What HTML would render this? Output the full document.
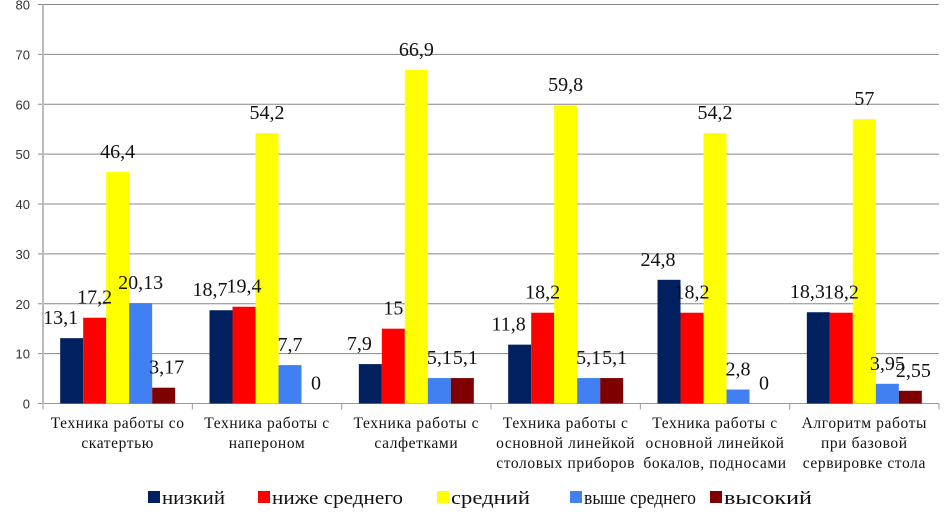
<!DOCTYPE html>
<html><head><meta charset="utf-8"><style>
body{margin:0;background:#fff;}
svg{display:block;}
.t{font-family:"Liberation Serif",serif;}
.s{font-family:"Liberation Sans",sans-serif;}
</style></head><body>
<svg id="c" width="945" height="519" xmlns="http://www.w3.org/2000/svg"></svg>
<script>
const categories=[["Техника работы со","скатертью"],["Техника работы с","напероном"],["Техника работы с","салфетками"],["Техника работы с","основной линейкой","столовых приборов"],["Техника работы с","основной линейкой","бокалов, подносами"],["Алгоритм работы","при базовой","сервировке стола"]];
const seriesNames=["низкий","ниже среднего","средний","выше среднего","высокий"];
const sLow=[13.1,18.7,7.9,11.8,24.8,18.3];
const sBelow=[17.2,19.4,15,18.2,18.2,18.2];
const sMid=[46.4,54.2,66.9,59.8,54.2,57];
const sAbove=[20.13,7.7,5.1,5.1,2.8,3.95];
const sHigh=[3.17,0,5.1,5.1,0,2.55];
const yTicks=[0,10,20,30,40,50,60,70,80];
const series=[sLow,sBelow,sMid,sAbove,sHigh];
const colors=["#002060","#ff0000","#ffff00","#4080f0","#7f0000"];
const labelShift=[-11,0,0,0,3];
const NS="http://www.w3.org/2000/svg";
const svg=document.getElementById('c');
const L=43,R=939,T=4.5,B=403.5,ymax=80;
const y=v=>B-(B-T)*v/ymax;
const cw=(R-L)/categories.length,bw=23;
const x=(ci,si)=>L+ci*cw+(cw-5*bw)/2+si*bw;
function mk(tag,attrs,txt){const e=document.createElementNS(NS,tag);for(const k in attrs)e.setAttribute(k,attrs[k]);if(txt!==undefined)e.textContent=txt;svg.appendChild(e);return e;}
yTicks.forEach(v=>{
  const g=mk('line',{x1:L-5,x2:R,y1:y(v),y2:y(v),stroke:v===0?'#999':'#888','stroke-width':1});
  
  
  const t=mk('text',{x:30,y:y(v)+5,'text-anchor':'end','font-size':13,fill:'#333',class:'s'},String(v));
  
  
});
const ax=mk('line',{x1:L,x2:L,y1:T,y2:B,stroke:'#bbb','stroke-width':2});


for(let i=0;i<=categories.length;i++){
  const tk=mk('line',{x1:L+i*cw,x2:L+i*cw,y1:B,y2:B+6,stroke:'#999'});
  
  
}
categories.forEach((c,ci)=>{
  series.forEach((s,si)=>{
    const v=s[ci];
    const r=mk('rect',{x:x(ci,si),y:y(v),width:bw,height:B-y(v),fill:colors[si]});
    
    
  });
  c.forEach((line,li)=>{
    const t=mk('text',{x:L+ci*cw+cw/2,y:428+li*20,'text-anchor':'middle','font-size':15.5,'letter-spacing':0.6,fill:'#111',class:'t'},line);
    
    
  });
});
categories.forEach((c,ci)=>{
  series.forEach((s,si)=>{
    const v=s[ci];
    const lb=mk('text',{x:x(ci,si)+bw/2+labelShift[si],y:y(v)-14,'text-anchor':'middle','font-size':20,fill:'#111',class:'t'},String(v).replace('.',','));
    
    
  });
});
const lx=[148,258,437,570,710];
const lw=[63,131,79,112,88];
seriesNames.forEach((n,i)=>{
  const sq=mk('rect',{x:lx[i],y:491,width:12,height:12,fill:colors[i]});
  
  
  const t=mk('text',{x:lx[i]+14,y:504,'font-size':19,textLength:lw[i],lengthAdjust:'spacingAndGlyphs',fill:'#111',class:'t'},n);
  
  
});
</script>
</body></html>
